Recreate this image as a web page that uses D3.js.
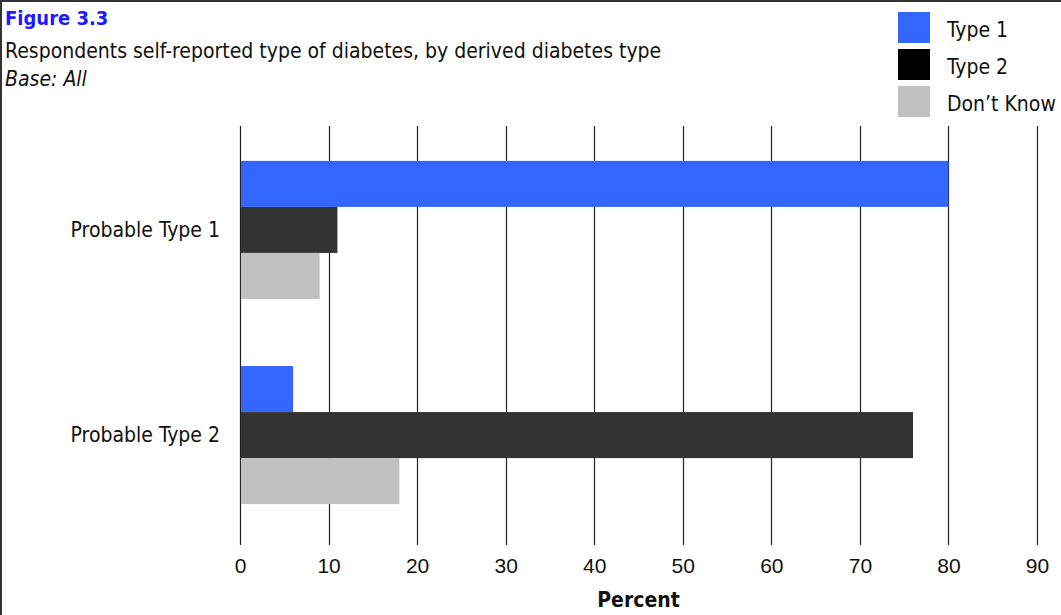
<!DOCTYPE html>
<html>
<head>
<meta charset="utf-8">
<script src="https://cdn.jsdelivr.net/npm/d3@7"></script>
<style>
  html, body { margin: 0; padding: 0; background: #fff; }
  svg { display: block; font-family: "DejaVu Sans Condensed", "DejaVu Sans", sans-serif; font-stretch: condensed; }
</style>
</head>
<body>
<svg id="chart" width="1061" height="615"></svg>
<script>
// Derived diabetes type (rows of the chart)
const categories = ["Probable Type 1", "Probable Type 2"];
// Self-reported type (series)
const seriesNames = ["Type 1", "Type 2", "Don\u2019t Know"];
const type1Values = [80, 6];
const type2Values = [11, 76];
const dontKnowValues = [9, 18];
const xTicks = [0, 10, 20, 30, 40, 50, 60, 70, 80, 90];

const barColors = ["#3366ff", "#333333", "#c0c0c0"];
const legendColors = ["#3366ff", "#000000", "#c0c0c0"];

const svg = d3.select("#chart");
const W = 1061, H = 615;
const margin = { left: 240, top: 126 };
const plotW = 1037 - margin.left;
const plotH = 419;

// frame (top and left edges)
svg.append("line").attr("x1", 0).attr("y1", 1).attr("x2", W).attr("y2", 1)
  .attr("stroke", "#333").attr("stroke-width", 2);
svg.append("line").attr("x1", 1).attr("y1", 0).attr("x2", 1).attr("y2", H)
  .attr("stroke", "#333").attr("stroke-width", 2);

// headings
svg.append("text").attr("x", 5).attr("y", 25)
  .attr("font-size", 20).attr("font-weight", "bold").attr("fill", "#1a1aff")
  .text("Figure 3.3");
svg.append("text").attr("x", 5).attr("y", 58)
  .attr("font-size", 21).attr("fill", "#111")
  .text("Respondents self-reported type of diabetes, by derived diabetes type");
svg.append("text").attr("x", 5).attr("y", 86)
  .attr("font-size", 21).attr("font-style", "italic").attr("fill", "#111")
  .text("Base: All");

const x = d3.scaleLinear().domain([0, 90]).range([0, plotW]);
const y = d3.scaleBand().domain(categories).range([0, 413]).paddingInner(0.327).paddingOuter(0.17);
const ySub = d3.scaleBand().domain(seriesNames).range([0, y.bandwidth()]);

const g = svg.append("g").attr("transform", `translate(${margin.left},${margin.top})`);

// vertical gridlines
g.selectAll("line.grid").data(xTicks).join("line")
  .attr("class", "grid")
  .attr("x1", d => Math.round(x(d)) + 0.5).attr("x2", d => Math.round(x(d)) + 0.5)
  .attr("y1", 0).attr("y2", plotH)
  .attr("stroke", "#222").attr("stroke-width", 1.2);

// bars
const rows = categories.map((c, i) => ({
  cat: c,
  vals: [type1Values[i], type2Values[i], dontKnowValues[i]]
}));
const groups = g.selectAll("g.row").data(rows).join("g")
  .attr("class", "row")
  .attr("transform", d => `translate(0,${y(d.cat)})`);
groups.selectAll("rect").data(d => d.vals.map((v, j) => ({ name: seriesNames[j], v, j })))
  .join("rect")
  .attr("x", x(0) + 1)
  .attr("y", d => ySub(d.name))
  .attr("width", d => x(d.v) - x(0) - 1)
  .attr("height", ySub.bandwidth())
  .attr("fill", d => barColors[d.j]);

// category labels
g.selectAll("text.cat").data(categories).join("text")
  .attr("class", "cat")
  .attr("x", -20)
  .attr("y", d => y(d) + y.bandwidth() / 2)
  .attr("dy", "0.35em")
  .attr("text-anchor", "end")
  .attr("font-size", 21).attr("fill", "#111")
  .text(d => d);

// x axis tick labels
const xAxis = d3.axisBottom(x).tickValues(xTicks).tickSize(0).tickPadding(0);
const ax = g.append("g").attr("transform", `translate(0,${plotH + 21})`).call(xAxis);
ax.select(".domain").remove();
ax.selectAll("text").attr("font-size", 21).attr("fill", "#111")
  .attr("font-family", null).attr("dy", "0.35em").attr("y", 0);

svg.append("text")
  .attr("x", margin.left + plotW / 2).attr("y", 600).attr("dy", "0.35em")
  .attr("text-anchor", "middle").attr("font-size", 21).attr("font-weight", "bold").attr("fill", "#111")
  .text("Percent");

// legend
const lg = svg.append("g").attr("transform", "translate(898,12)");
seriesNames.forEach((n, i) => {
  const yy = i * 37;
  lg.append("rect").attr("x", 0).attr("y", yy).attr("width", 32).attr("height", 31)
    .attr("fill", legendColors[i]);
  lg.append("text").attr("x", 49).attr("y", yy + 18).attr("dy", "0.35em")
    .attr("font-size", 21).attr("fill", "#111").text(n);
});
</script>
</body>
</html>
